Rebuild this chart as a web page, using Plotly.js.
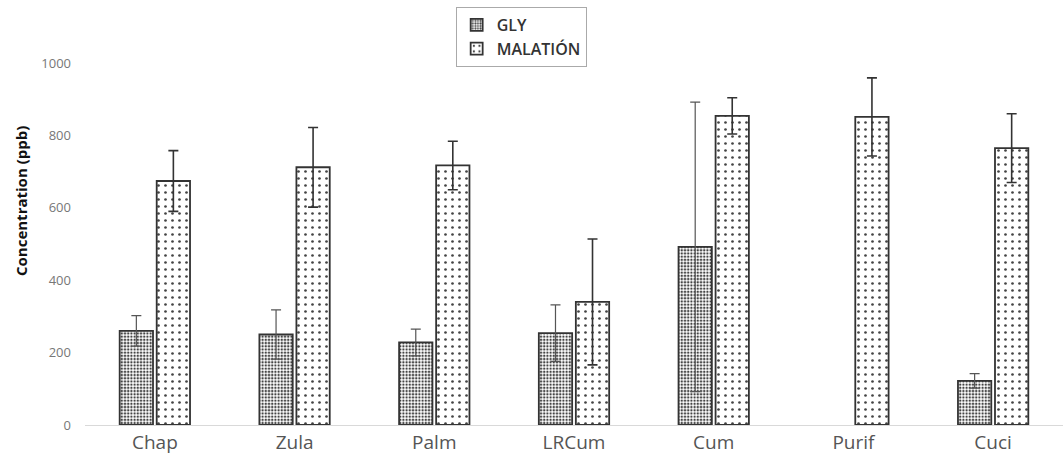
<!DOCTYPE html>
<html><head><meta charset="utf-8">
<script src="https://cdn.plot.ly/plotly-3.0.1.min.js"></script>
<style>body{margin:0;background:#fff}#c{width:1063px;height:462px}</style>
</head><body><div id="c"></div>
<script>
const categories = ["Chap","Zula","Palm","LRCum","Cum","Purif","Cuci"];
const glyValues = [260, 250, 228, 254, 492, null, 122];
const glyErrors = [42, 68, 37, 78, 400, null, 20];
const malValues = [674, 712, 717, 340, 854, 851, 765];
const malErrors = [84, 110, 67, 174, 50, 108, 95];
const yTicks = [0, 200, 400, 600, 800, 1000];

const traces = [
  {type:"bar", name:"GLY", x:categories, y:glyValues,
   marker:{color:"#ffffff", line:{color:"#333", width:1.8},
     pattern:{shape:".", fgcolor:"#444", bgcolor:"#fff", size:3.2, solidity:0.45}},
   error_y:{type:"data", array:glyErrors, visible:true, color:"#555", thickness:1.2, width:5}},
  {type:"bar", name:"MALATIÓN", x:categories, y:malValues,
   marker:{color:"#ffffff", line:{color:"#333", width:1.8},
     pattern:{shape:".", fgcolor:"#444", bgcolor:"#fff", size:7, solidity:0.12}},
   error_y:{type:"data", array:malErrors, visible:true, color:"#333", thickness:1.6, width:5}}
];

const layout = {
  width:1063, height:462,
  margin:{l:85, r:0, t:63, b:37},
  paper_bgcolor:"#fff", plot_bgcolor:"#fff",
  barmode:"group", bargap:0.47, bargroupgap:0.1,
  font:{family:"'Open Sans', sans-serif", color:"#444"},
  showlegend:true,
  legend:{x:0.379, y:1.155, xanchor:"left", yanchor:"top", orientation:"v",
    bordercolor:"#aaa", borderwidth:1, bgcolor:"#fff",
    font:{size:16, color:"#333", family:"'Open Sans', sans-serif", weight:600},
    tracegroupgap:0, itemwidth:30},
  xaxis:{type:"category", showline:true, linecolor:"#d9d9d9", linewidth:1,
    ticks:"", tickfont:{size:19, color:"#555"}, showgrid:false, zeroline:false},
  yaxis:{range:[0,1000], tickvals:yTicks, ticktext:yTicks.map(String),
    showgrid:false, zeroline:false, showline:false, ticks:"",
    tickfont:{size:13, color:"#777"}, ticklabelstandoff:13},
  annotations:[{text:"<b>Concentration (ppb)</b>", textangle:-90, xref:"paper", yref:"paper",
    x:-0.066, y:0.62, xanchor:"center", yanchor:"middle", showarrow:false,
    font:{size:15, color:"#111", family:"'Open Sans', sans-serif"}}]
};
Plotly.newPlot("c", traces, layout, {displayModeBar:false, staticPlot:true});
</script></body></html>
